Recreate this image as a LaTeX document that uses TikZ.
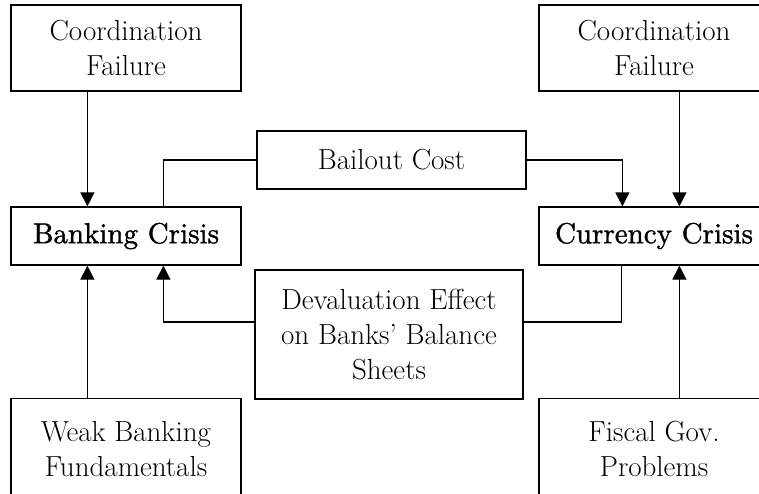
\documentclass[tikz,border=0pt]{standalone}
\usepackage{fontspec}
\newfontfamily\crisisfont{lmroman10-regular.otf}[FakeBold=1.2]
\usetikzlibrary{arrows.meta}

\begin{document}
\begin{tikzpicture}[x=1pt, y=-1pt, line width=1.2pt,
        >={Triangle[length=14pt, width=14pt]},
        box/.style = {draw, rectangle, align=center, inner sep=0pt,
            font=\fontsize{29}{35}\selectfont},
        wide/.style = {box, minimum width=230pt},
        crisis/.style = {wide, minimum height=58pt,
            font=\fontsize{29}{35}\selectfont\crisisfont},
        open/.style = {wide, anchor=north, inner ysep=23pt, text depth=80pt}]
        \useasboundingbox (0,0) rectangle (759,493);
        \node[wide, minimum height=86pt] (cfl) at (126,48) {Coordination\\Failure};
        \node[wide, minimum height=86pt] (cfr) at (654,48) {Coordination\\Failure};
        \node[crisis] (bank) at (126,236) {Banking Crisis};
        \node[crisis] (curr) at (654,236) {Currency Crisis};
        \node[box, minimum width=269pt, minimum height=58pt] (bail) at (391.5,160) {Bailout Cost};
        \node[box, minimum width=268pt, minimum height=129pt] (deval) at (389,334.5) {Devaluation Effect\\on Banks' Balance\\Sheets};
        \node[open] (weak) at (126,398) {Weak Banking\\Fundamentals};
        \node[open] (fisc) at (654,398) {Fiscal Gov.\\Problems};
        \draw[->] ([xshift=77pt]cfl.south west) -- ([xshift=77pt]bank.north west);
        \draw[->] ([xshift=141pt]cfr.south west) -- ([xshift=141pt]curr.north west);
        \draw (bail.west) -| ([xshift=153pt]bank.north west);
        \draw[->] (bail.east) -| ([xshift=84pt]curr.north west);
        \draw[->] ([yshift=12.5pt]deval.west) -| ([xshift=153pt]bank.south west);
        \draw ([yshift=12.5pt]deval.east) -| ([xshift=83pt]curr.south west);
        \draw[->] ([xshift=77pt]weak.north west) -- ([xshift=77pt]bank.south west);
        \draw[->] ([xshift=141pt]fisc.north west) -- ([xshift=141pt]curr.south west);
    \end{tikzpicture}
\end{document}
